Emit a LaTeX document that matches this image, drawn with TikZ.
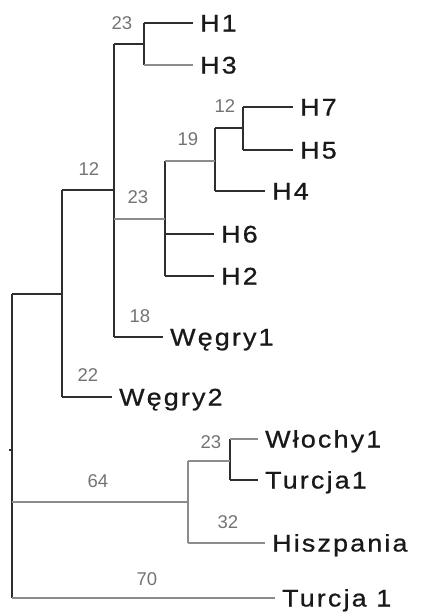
\documentclass[tikz,border=0pt]{standalone}
\usepackage{fontspec}
\setmainfont{Liberation Sans}
\newfontfamily\leaffont{Liberation Sans}[FakeStretch=1.12,LetterSpace=9,FakeBold=0.8]
\newfontfamily\labfont{Liberation Sans}
\begin{document}
\begin{tikzpicture}[x=1pt,y=-1pt,
  dk/.style={draw=black!82,line width=1.3pt},
  lt/.style={draw=black!45,line width=1.3pt},
  leaf/.style={anchor=west,inner xsep=7pt,inner ysep=0pt,text height=17pt,text depth=0pt,
     font=\leaffont\fontsize{24}{28}\selectfont,text=black!90},
  blab/.style={inner sep=0pt,font=\labfont\fontsize{18.5}{20}\selectfont,text=black!55}]
\useasboundingbox (0,0) rectangle (423,614);
% internal nodes
\coordinate (R) at (12,450);
\coordinate (Rs) at (9,450);
\coordinate (A) at (62,294);
\coordinate (B) at (114,190);
\coordinate (C) at (144,44);
\coordinate (D) at (165,219);
\coordinate (E) at (215,161);
\coordinate (F) at (243,128);
\coordinate (G) at (188,502);
\coordinate (I) at (230,461);
% leaves
\node[leaf] (h1) at (193,23) {H1};
\node[leaf] (h3) at (193,65) {H3};
\node[leaf] (h7) at (293,107) {H7};
\node[leaf] (h5) at (293,150) {H5};
\node[leaf] (h4) at (265,191) {H4};
\node[leaf] (h6) at (214,234) {H6};
\node[leaf] (h2) at (214,276) {H2};
\node[leaf] (w1) at (163,337) {Węgry1};
\node[leaf] (w2) at (112,397) {Węgry2};
\node[leaf] (wl) at (258,439) {Włochy1};
\node[leaf] (t1) at (258,480) {Turcja1};
\node[leaf] (hi) at (265,543) {Hiszpania};
\node[leaf] (tt) at (275,598) {Turcja 1};
% verticals
\draw[dk] (R |- A) -- (R |- tt.west);
\draw[dk] (Rs) -- (R);
\draw[dk] (A |- B) -- (A |- w2.west);
\draw[dk] (B |- C) -- (B |- w1.west);
\draw[dk] (C |- h1.west) -- (C |- h3.west);
\draw[dk] (D |- E) -- (D |- h2.west);
\draw[dk] (E |- F) -- (E |- h4.west);
\draw[dk] (F |- h7.west) -- (F |- h5.west);
\draw[lt] (G |- I) -- (G |- hi.west);
\draw[dk] (I |- wl.west) -- (I |- t1.west);
% horizontals
\draw[dk] (R |- A) -- (A);
\draw[lt] (R |- G) -- (G);
\draw[lt] (R |- tt.west) -- (tt.west);
\draw[dk] (A |- B) -- (B);
\draw[dk] (A |- w2.west) -- (w2.west);
\draw[dk] (B |- C) -- (C);
\draw[lt] (B |- D) -- (D);
\draw[dk] (B |- w1.west) -- (w1.west);
\draw[dk] (C |- h1.west) -- (h1.west);
\draw[lt] (C |- h3.west) -- (h3.west);
\draw[lt] (D |- E) -- (E);
\draw[dk] (D |- h6.west) -- (h6.west);
\draw[dk] (D |- h2.west) -- (h2.west);
\draw[dk] (E |- F) -- (F);
\draw[dk] (E |- h4.west) -- (h4.west);
\draw[dk] (F |- h7.west) -- (h7.west);
\draw[dk] (F |- h5.west) -- (h5.west);
\draw[lt] (G |- I) -- (I);
\draw[lt] (G |- hi.west) -- (hi.west);
\draw[lt] (I |- wl.west) -- (wl.west);
\draw[dk] (I |- t1.west) -- (t1.west);
% bootstrap labels
\node[blab] (l1) at (122,23) {23};
\node[blab] (l2) at (89,169) {12};
\node[blab] (l3) at (138,197) {23};
\node[blab] (l4) at (188,139) {19};
\node[blab] (l5) at (225,106) {12};
\node[blab] (l6) at (140,316) {18};
\node[blab] (l7) at (88,375) {22};
\node[blab] (l8) at (98,481) {64};
\node[blab] (l9) at (147,579) {70};
\node[blab] (l10) at (211,442) {23};
\node[blab] (l11) at (228,522) {32};
\end{tikzpicture}
\end{document}
